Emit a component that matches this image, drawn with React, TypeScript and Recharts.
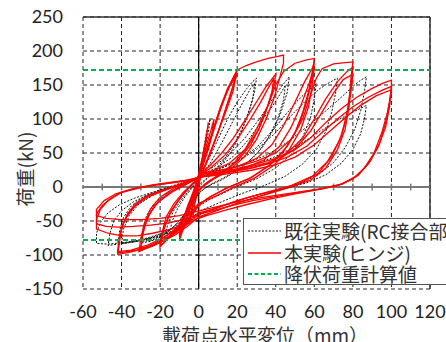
import React from 'react';
import { LineChart, Line, XAxis, YAxis, CartesianGrid, ReferenceLine } from 'recharts';

// x: 載荷点水平変位 (mm), y: 荷重 (kN)
const xTicks = [-60, -40, -20, 0, 20, 40, 60, 80, 100, 120];
const yTicks = [-150, -100, -50, 0, 50, 100, 150, 200, 250];
const yieldUpper = 172;
const yieldLower = -78;
const minorX = [-50, -40, -30, -20, -10, 10, 20, 30, 40, 50, 60, 70, 80, 90, 100, 110];
const minorY = [-100, -50, 50, 100, 150, 200];

// 本実験(ヒンジ)
const red05 = [[0,15],[2,40],[4,70],[5,95],[4,75],[2,45],[0,20],[-1,0],[-2,-25],[-3,-45],[-2,-25],[0,0],[1,15]];
const red08 = [[0,18],[3,50],[6,80],[8,100],[7,78],[5,55],[2,30],[0,10],[-2,-15],[-4,-40],[-5,-55],[-4,-38],[-2,-12],[0,18]];
const red20a = [[0,15],[3,40],[6,70],[10,105],[14,135],[17,155],[20,172],[18,150],[14,115],[10,80],[6,50],[3,28],[0,12],[-2,-5],[-4,-25],[-6,-45],[-8,-62],[-10,-78],[-9,-60],[-7,-40],[-4,-18],[-1,5],[0,15]];
const red20b = [[0,16],[3,45],[7,80],[11,115],[15,145],[19,163],[20,166],[17,140],[13,105],[9,72],[5,42],[2,22],[0,8],[-3,-15],[-5,-35],[-8,-58],[-10,-74],[-8,-50],[-5,-28],[-2,-5],[0,16]];
const red20c = [[0,17],[4,52],[8,88],[12,122],[16,148],[19,160],[18,142],[15,118],[11,88],[7,58],[3,30],[0,10],[-2,-10],[-5,-38],[-8,-60],[-10,-72],[-9,-55],[-6,-30],[-3,-8],[0,17]];
const red40a = [[0,18],[4,50],[8,85],[12,120],[16,150],[20,172],[25,179],[30,184],[36,189],[41,192],[44,194],[44,182],[42,160],[39,130],[35,100],[30,70],[24,45],[16,25],[8,12],[2,0],[-2,-12],[-6,-35],[-10,-55],[-15,-72],[-20,-88],[-19,-68],[-17,-45],[-13,-25],[-8,-8],[-3,5],[0,15]];
const red40b = [[0,15],[6,32],[12,50],[18,72],[24,98],[30,125],[35,148],[40,166],[39,148],[36,120],[32,90],[27,62],[20,38],[12,20],[5,8],[0,-5],[-4,-25],[-8,-48],[-13,-68],[-18,-82],[-20,-86],[-18,-62],[-15,-40],[-10,-18],[-5,0],[0,14]];
const red40c = [[0,14],[7,30],[14,48],[20,70],[26,96],[32,124],[36,145],[39,160],[38,140],[35,112],[31,84],[25,58],[18,34],[10,17],[3,4],[0,-6],[-5,-30],[-9,-52],[-14,-70],[-20,-82],[-18,-58],[-14,-34],[-9,-14],[-4,2],[0,14]];
const red60a = [[0,18],[8,25],[16,35],[24,55],[30,85],[36,120],[40,150],[44,170],[50,182],[56,187],[60,189],[59,170],[57,140],[54,110],[50,80],[44,52],[36,30],[26,12],[14,-2],[4,-18],[0,-28],[-5,-46],[-10,-62],[-16,-74],[-22,-84],[-28,-91],[-31,-95],[-30,-75],[-28,-52],[-25,-32],[-20,-15],[-12,0],[-4,10],[0,15]];
const red60b = [[0,15],[10,22],[20,30],[30,42],[38,62],[44,90],[50,125],[55,155],[59,175],[60,182],[59,160],[56,125],[52,90],[46,60],[38,35],[28,15],[16,0],[6,-14],[0,-26],[-6,-50],[-12,-66],[-18,-78],[-24,-87],[-30,-93],[-29,-70],[-27,-48],[-23,-28],[-16,-10],[-8,4],[0,14]];
const red60c = [[0,14],[12,20],[24,28],[34,40],[42,60],[48,88],[53,120],[57,150],[60,176],[59,152],[57,118],[53,85],[47,55],[39,32],[29,13],[17,-2],[7,-16],[0,-24],[-7,-48],[-14,-66],[-21,-80],[-27,-88],[-30,-90],[-29,-66],[-26,-42],[-21,-22],[-13,-6],[-5,6],[0,14]];
const red80a = [[0,18],[10,24],[20,30],[30,38],[40,50],[48,70],[54,100],[58,135],[61,160],[64,174],[70,181],[76,183],[80,184],[79,160],[78,120],[76,85],[72,55],[66,28],[58,10],[48,0],[36,-10],[22,-22],[10,-34],[0,-44],[-6,-58],[-12,-70],[-20,-82],[-28,-90],[-36,-96],[-42,-99],[-41,-80],[-40,-60],[-37,-40],[-33,-25],[-26,-12],[-16,-2],[-6,6],[0,15]];
const red80b = [[0,15],[12,22],[24,28],[36,36],[46,50],[54,72],[60,100],[66,130],[72,155],[77,170],[80,176],[79,150],[77,110],[74,75],[69,45],[62,20],[52,5],[40,-5],[26,-15],[12,-28],[0,-40],[-8,-60],[-16,-75],[-24,-86],[-32,-93],[-40,-96],[-42,-97],[-41,-74],[-39,-52],[-35,-33],[-29,-18],[-20,-6],[-10,4],[0,14]];
const red80c = [[0,14],[14,21],[28,28],[40,38],[50,56],[58,82],[64,110],[70,138],[75,158],[80,166],[79,140],[77,102],[73,68],[67,38],[59,16],[48,2],[35,-8],[20,-20],[8,-32],[0,-38],[-9,-58],[-18,-74],[-27,-86],[-35,-93],[-42,-95],[-41,-70],[-38,-46],[-33,-28],[-26,-14],[-16,-3],[-7,6],[0,14]];
const red100a = [[0,18],[10,22],[20,27],[30,34],[40,42],[50,55],[58,72],[66,95],[74,115],[82,132],[90,145],[96,153],[100,157],[100,140],[98,110],[95,80],[91,50],[86,28],[80,12],[72,2],[62,-4],[50,-10],[38,-17],[26,-25],[14,-34],[4,-42],[0,-46],[-8,-56],[-16,-63],[-24,-68],[-32,-72],[-40,-72],[-47,-68],[-53,-62],[-53,-48],[-51,-33],[-47,-20],[-41,-9],[-33,-2],[-24,3],[-14,7],[-6,10],[0,14]];
const red100b = [[0,15],[12,20],[24,26],[36,34],[46,44],[56,60],[64,80],[72,100],[80,118],[88,132],[95,142],[100,148],[99,125],[97,95],[94,65],[89,38],[83,18],[75,5],[65,-2],[52,-8],[40,-14],[28,-20],[16,-28],[6,-36],[0,-40],[-8,-48],[-16,-53],[-25,-56],[-34,-58],[-42,-59],[-48,-58],[-53,-54],[-53,-40],[-50,-27],[-45,-16],[-40,-8],[-30,-1],[-20,4],[-10,8],[0,13]];
const red100c = [[0,14],[14,19],[28,25],[40,33],[50,44],[60,62],[68,82],[76,102],[84,120],[92,134],[100,143],[99,118],[97,88],[93,58],[88,34],[82,16],[74,4],[62,-3],[48,-9],[34,-15],[20,-22],[8,-30],[0,-35],[-10,-42],[-20,-46],[-30,-48],[-40,-48],[-48,-46],[-53,-42],[-53,-33],[-49,-20],[-43,-10],[-35,-3],[-25,2],[-12,7],[0,12]];

// 既往実験(RC接合部)
const blk05 = [[0,15],[2,45],[4,80],[6,100],[5,80],[3,50],[1,20],[0,0],[-2,-20],[-4,-40],[-5,-50],[-4,-35],[-2,-15],[0,10]];
const blk30a = [[0,18],[5,40],[10,70],[15,100],[20,125],[25,145],[28,155],[30,160],[29,140],[26,110],[22,80],[17,52],[11,30],[5,14],[0,0],[-3,-20],[-6,-40],[-9,-55],[-12,-64],[-15,-70],[-14,-52],[-11,-32],[-7,-14],[-3,0],[0,14]];
const blk30b = [[0,15],[6,35],[12,65],[18,98],[23,125],[27,145],[29,152],[28,128],[24,95],[19,65],[13,40],[7,20],[1,5],[-3,-15],[-7,-38],[-11,-58],[-15,-72],[-18,-76],[-16,-55],[-13,-35],[-8,-15],[-3,2],[0,14]];
const blk47a = [[0,18],[8,30],[16,48],[24,72],[32,102],[38,128],[43,148],[47,162],[46,140],[43,112],[39,85],[33,58],[25,35],[16,18],[7,5],[0,-8],[-5,-30],[-10,-50],[-15,-64],[-20,-74],[-25,-80],[-30,-82],[-29,-62],[-27,-42],[-23,-24],[-17,-10],[-9,2],[0,14]];
const blk47b = [[0,16],[9,28],[18,45],[26,70],[33,98],[39,122],[43,140],[45,150],[44,128],[41,100],[36,72],[30,48],[22,28],[13,12],[4,0],[0,-10],[-6,-36],[-12,-56],[-18,-70],[-24,-78],[-30,-80],[-28,-58],[-25,-36],[-20,-18],[-12,-4],[-4,8],[0,14]];
const blk61 = [[0,17],[10,25],[20,38],[30,58],[38,82],[45,106],[51,126],[56,140],[61,152],[60,130],[58,102],[54,74],[48,48],[40,28],[30,12],[18,-2],[6,-18],[0,-28],[-8,-50],[-16,-64],[-24,-74],[-32,-80],[-40,-83],[-39,-62],[-36,-42],[-31,-25],[-23,-11],[-13,0],[-4,8],[0,14]];
const blk72 = [[0,18],[10,26],[20,38],[30,55],[40,80],[48,105],[56,128],[63,145],[68,154],[72,160],[71,138],[69,110],[66,82],[61,55],[54,34],[45,16],[34,2],[22,-10],[10,-24],[0,-36],[-6,-52],[-12,-63],[-20,-72],[-28,-78],[-36,-82],[-42,-84],[-41,-64],[-39,-45],[-35,-28],[-29,-15],[-20,-4],[-10,5],[0,14]];
const blk87a = [[0,18],[12,25],[24,34],[36,48],[46,66],[56,88],[66,112],[74,132],[80,148],[84,157],[87,162],[86,140],[84,112],[81,85],[76,58],[70,36],[62,18],[52,4],[40,-6],[26,-18],[12,-32],[0,-45],[-8,-58],[-16,-68],[-24,-75],[-32,-79],[-40,-82],[-47,-84],[-53,-83],[-53,-68],[-51,-52],[-47,-38],[-41,-26],[-33,-16],[-23,-7],[-12,2],[0,12]];
const blk87b = [[0,15],[14,22],[28,32],[40,45],[52,62],[62,80],[72,98],[80,110],[87,120],[86,100],[84,78],[80,55],[74,35],[66,18],[56,6],[44,-3],[30,-12],[16,-24],[4,-36],[-4,-48],[-12,-60],[-20,-69],[-28,-76],[-36,-81],[-42,-84],[-47,-86],[-46,-68],[-44,-50],[-40,-35],[-34,-22],[-26,-11],[-16,-2],[-6,6],[0,13]];

const redLoops = [red05, red08, red20a, red20b, red20c, red40a, red40b, red40c, red60a, red60b, red60c, red80a, red80b, red80c, red100a, red100b, red100c];
const blackLoops = [blk05, blk30a, blk30b, blk47a, blk47b, blk61, blk72, blk87a, blk87b];

const toPts = (arr: number[][]) => arr.map(([x, y]) => ({ x, y }));

const tickStyle = { fontFamily: 'Lato, sans-serif', fontSize: 18, fill: '#222' };
const jp = '"Noto Sans CJK JP", sans-serif';

const legendItems = [
  { label: '既往実験(RC接合部)', color: '#111', dash: '2 1.5', w: 1 },
  { label: '本実験(ヒンジ)', color: '#ff0000', dash: undefined, w: 1.5 },
  { label: '降伏荷重計算値', color: '#00b050', dash: '4 2.5', w: 2 },
];

export default function App() {
  return (
    <div style={{ position: 'absolute', left: 0, top: 0, width: 446, height: 342, overflow: 'hidden', background: '#fff' }}>
      <LineChart width={446} height={342} margin={{ top: 17, right: 16, bottom: 0, left: 0 }}>
        <CartesianGrid stroke="#222" strokeDasharray="4 3" strokeWidth={1} />
        <XAxis
          dataKey="x"
          type="number"
          domain={[-60, 120]}
          ticks={xTicks}
          height={53}
          axisLine={false}
          tickLine={false}
          tickSize={0}
          tickMargin={16}
          tick={tickStyle}
          allowDataOverflow
        />
        <YAxis
          type="number"
          domain={[-150, 250]}
          ticks={yTicks}
          width={83}
          axisLine={false}
          tickLine={false}
          tickSize={0}
          tickMargin={20}
          tick={tickStyle}
          allowDataOverflow
        />
        <ReferenceLine y={250} stroke="#333" strokeWidth={1.5} />
        <ReferenceLine x={120} stroke="#333" strokeWidth={1.5} />
        <ReferenceLine x={0} stroke="#000" strokeWidth={1.2} />
        <ReferenceLine y={0} stroke="#777" strokeWidth={2} />
        {minorX.map((v) => (
          <ReferenceLine key={'mx' + v} segment={[{ x: v, y: -5 }, { x: v, y: 5 }]} stroke="#777" strokeWidth={1.5} />
        ))}
        {minorY.map((v) => (
          <ReferenceLine key={'my' + v} segment={[{ x: -1.5, y: v }, { x: 1.5, y: v }]} stroke="#000" strokeWidth={1} />
        ))}
        {blackLoops.map((loop, i) => (
          <Line
            key={'b' + i}
            data={toPts(loop)}
            dataKey="y"
            type="linear"
            stroke="#111"
            strokeWidth={1}
            strokeDasharray="2 1.5"
            dot={false}
            isAnimationActive={false}
          />
        ))}
        {redLoops.map((loop, i) => (
          <Line
            key={'r' + i}
            data={toPts(loop)}
            dataKey="y"
            type="linear"
            stroke="#ff0000"
            strokeWidth={1.3}
            dot={false}
            isAnimationActive={false}
          />
        ))}
        <ReferenceLine y={yieldUpper} stroke="#00b050" strokeWidth={2} strokeDasharray="5 3" />
        <ReferenceLine y={yieldLower} stroke="#00b050" strokeWidth={2} strokeDasharray="5 3" />
      </LineChart>

      <div
        style={{
          position: 'absolute',
          left: 25,
          top: 169,
          transform: 'translate(-50%, -50%) rotate(-90deg)',
          whiteSpace: 'nowrap',
          fontFamily: jp,
          fontSize: 19,
          color: '#333',
          lineHeight: '20px',
        }}
      >
        荷重(kN)
      </div>
      <div
        style={{
          position: 'absolute',
          left: 265,
          top: 325,
          transform: 'translateX(-50%)',
          whiteSpace: 'nowrap',
          fontFamily: jp,
          fontSize: 19,
          color: '#333',
          lineHeight: '19px',
        }}
      >
        載荷点水平変位（mm）
      </div>

      <div
        style={{
          position: 'absolute',
          left: 243,
          top: 218,
          width: 220,
          height: 67,
          background: '#fff',
          border: '1px solid #555',
          boxSizing: 'border-box',
          fontFamily: jp,
          fontSize: 19,
          color: '#333',
        }}
      >
        {legendItems.map((item, i) => (
          <div key={i} style={{ position: 'absolute', left: 0, top: 2 + i * 21.5, height: 20, display: 'flex', alignItems: 'center', whiteSpace: 'nowrap' }}>
            <svg width={40} height={20} style={{ flex: 'none' }}>
              <line x1={4} x2={37} y1={10} y2={10} stroke={item.color} strokeWidth={item.w} strokeDasharray={item.dash} />
            </svg>
            <span style={{ display: 'block', lineHeight: '20px', height: 20 }}>{item.label}</span>
          </div>
        ))}
      </div>
    </div>
  );
}
